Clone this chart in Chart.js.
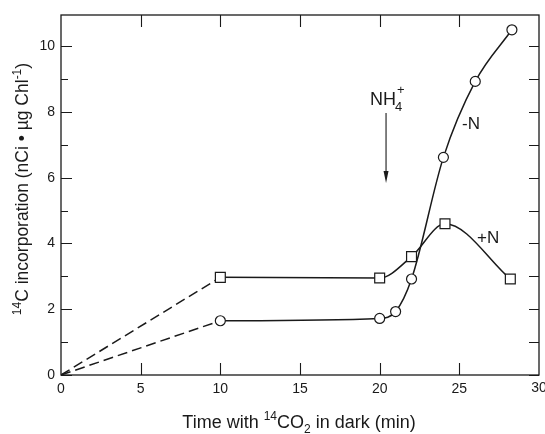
<!DOCTYPE html>
<html>
<head>
<meta charset="utf-8">
<script src="https://cdn.jsdelivr.net/npm/chart.js@4"></script>
<style>
  html, body { margin: 0; padding: 0; background: #fff; }
  #wrap { width: 545px; height: 434px; }
</style>
</head>
<body>
<div id="wrap"><canvas id="c" width="545" height="434"></canvas></div>
<script>
// data
const minusNTime = [10, 20, 21, 22, 24, 26, 28.3];
const minusNValue = [1.65, 1.72, 1.93, 2.92, 6.62, 8.93, 10.5];
const plusNTime = [10, 20, 22, 24.1, 28.2];
const plusNValue = [2.97, 2.95, 3.6, 4.6, 2.92];
const xTicks = [0, 5, 10, 15, 20, 25, 30];
const yTicks = [0, 2, 4, 6, 8, 10];

const ink = '#1a1a1a';
const FONT = '"Liberation Sans", Arial, sans-serif';

const pts = (xs, ys) => xs.map((x, i) => ({ x: x, y: ys[i] }));

// the dashed part runs from the origin to the first measurement
const dashMinus = [{ x: 0, y: 0 }, { x: minusNTime[0], y: minusNValue[0] }];
const dashPlus = [{ x: 0, y: 0 }, { x: plusNTime[0], y: plusNValue[0] }];

// draws text with superscripts / subscripts, centred on x
function richText(ctx, parts, x, y, size) {
    const small = Math.round(size * 0.68);
    let w = 0;
    parts.forEach(p => {
        ctx.font = (p[1] ? small : size) + 'px ' + FONT;
        p.w = ctx.measureText(p[0]).width;
        w += p.w;
    });
    let cx = x - w / 2;
    ctx.textBaseline = 'alphabetic';
    ctx.textAlign = 'left';
    parts.forEach(p => {
        ctx.font = (p[1] ? small : size) + 'px ' + FONT;
        let dy = 0;
        if (p[1] === 'sup') dy = -size * 0.42;
        if (p[1] === 'sub') dy = size * 0.28;
        ctx.fillText(p[0], cx, y + dy);
        cx += p.w;
    });
}

const decor = {
    id: 'decor',
    afterDraw(chart) {
        const ctx = chart.ctx;
        const a = chart.chartArea;
        const xs = chart.scales.x, ys = chart.scales.y;
        ctx.save();
        ctx.strokeStyle = ink;
        ctx.fillStyle = ink;
        ctx.lineWidth = 1.3;
        ctx.strokeRect(a.left, a.top, a.right - a.left, a.bottom - a.top);

        // inward tick marks
        ctx.lineWidth = 1.1;
        ctx.beginPath();
        for (let v = 0; v <= 10; v++) {
            const py = Math.round(ys.getPixelForValue(v)) + 0.5;
            const len = v % 2 === 0 ? 11 : 7;
            ctx.moveTo(a.left, py); ctx.lineTo(a.left + len, py);
            ctx.moveTo(a.right, py); ctx.lineTo(a.right - 10, py);
        }
        xTicks.slice(1, -1).forEach(v => {
            const px = Math.round(xs.getPixelForValue(v)) + 0.5;
            ctx.moveTo(px, a.bottom); ctx.lineTo(px, a.bottom - 12);
            ctx.moveTo(px, a.top); ctx.lineTo(px, a.top + 12);
        });
        ctx.stroke();

        // last x label sits on the canvas edge (cut off, as in the print)
        ctx.font = '14px ' + FONT;
        ctx.textAlign = 'center';
        ctx.textBaseline = 'top';
        const last = xTicks[xTicks.length - 1];
        ctx.fillText(String(last), xs.getPixelForValue(last), a.bottom + 6);

        // axis titles
        richText(ctx, [['Time with '], ['14', 'sup'], ['CO'], ['2', 'sub'], [' in dark (min)']],
            299, 428, 18);
        ctx.save();
        ctx.translate(28, 189);
        ctx.rotate(-Math.PI / 2);
        richText(ctx, [['14', 'sup'], ['C incorporation (nCi \u2022 \u00b5g Chl'], ['-1', 'sup'], [')']], 0, 0, 17.5);
        ctx.restore();

        // NH4+ marker with arrow
        const ax = xs.getPixelForValue(20.4);
        ctx.font = '18px ' + FONT;
        ctx.textAlign = 'left';
        ctx.textBaseline = 'alphabetic';
        ctx.fillText('NH', 370, 105);
        ctx.font = '13px ' + FONT;
        ctx.fillText('4', 395, 111);
        ctx.fillText('+', 397, 94);
        ctx.lineWidth = 1.1;
        ctx.beginPath();
        ctx.moveTo(ax, 113); ctx.lineTo(ax, 178);
        ctx.stroke();
        ctx.beginPath();
        ctx.moveTo(ax - 2.5, 171); ctx.lineTo(ax, 183); ctx.lineTo(ax + 2.5, 171);
        ctx.closePath(); ctx.fill();

        // series labels
        ctx.font = '17px ' + FONT;
        ctx.textBaseline = 'middle';
        ctx.fillText('-N', 462, 124);
        ctx.fillText('+N', 477, 238);
        ctx.restore();
    }
};

const solid = {
    borderColor: ink, borderWidth: 1.5, backgroundColor: '#fff',
    pointBorderColor: ink, pointBorderWidth: 1.2, pointBackgroundColor: '#fff',
    cubicInterpolationMode: 'monotone', fill: false
};
const dashed = {
    borderColor: ink, borderWidth: 1.5, borderDash: [10, 5],
    pointRadius: 0, fill: false
};

new Chart(document.getElementById('c'), {
    type: 'line',
    data: {
        // first dataset is drawn on top, so the dashed lines go last
        datasets: [
            Object.assign({ label: '-N', data: pts(minusNTime, minusNValue), pointStyle: 'circle', pointRadius: 5 }, solid),
            Object.assign({ label: '+N', data: pts(plusNTime, plusNValue), pointStyle: 'rect', pointRadius: 7 }, solid),
            Object.assign({ label: '-N dark', data: dashMinus }, dashed),
            Object.assign({ label: '+N dark', data: dashPlus }, dashed)
        ]
    },
    options: {
        responsive: false,
        animation: false,
        layout: { autoPadding: false, padding: { top: 15, right: 5, left: 0, bottom: 0 } },
        plugins: { legend: { display: false }, tooltip: { enabled: false } },
        scales: {
            x: {
                type: 'linear', min: 0, max: 30,
                grid: { display: false, drawTicks: false }, border: { display: false },
                ticks: { stepSize: 5, autoSkip: false, maxRotation: 0, padding: 6, color: ink,
                    font: { family: FONT, size: 14 },
                    callback: v => (xTicks.includes(v) && v < 30) ? v : '' },
                afterFit: s => { s.height = 59; }
            },
            y: {
                min: 0, max: 10.95,
                grid: { display: false, drawTicks: false }, border: { display: false },
                ticks: { stepSize: 1, autoSkip: false, padding: 6, color: ink,
                    font: { family: FONT, size: 14 },
                    callback: v => yTicks.includes(v) ? v : '' },
                afterFit: s => { s.width = 61; }
            }
        }
    },
    plugins: [decor]
});
</script>
</body>
</html>
